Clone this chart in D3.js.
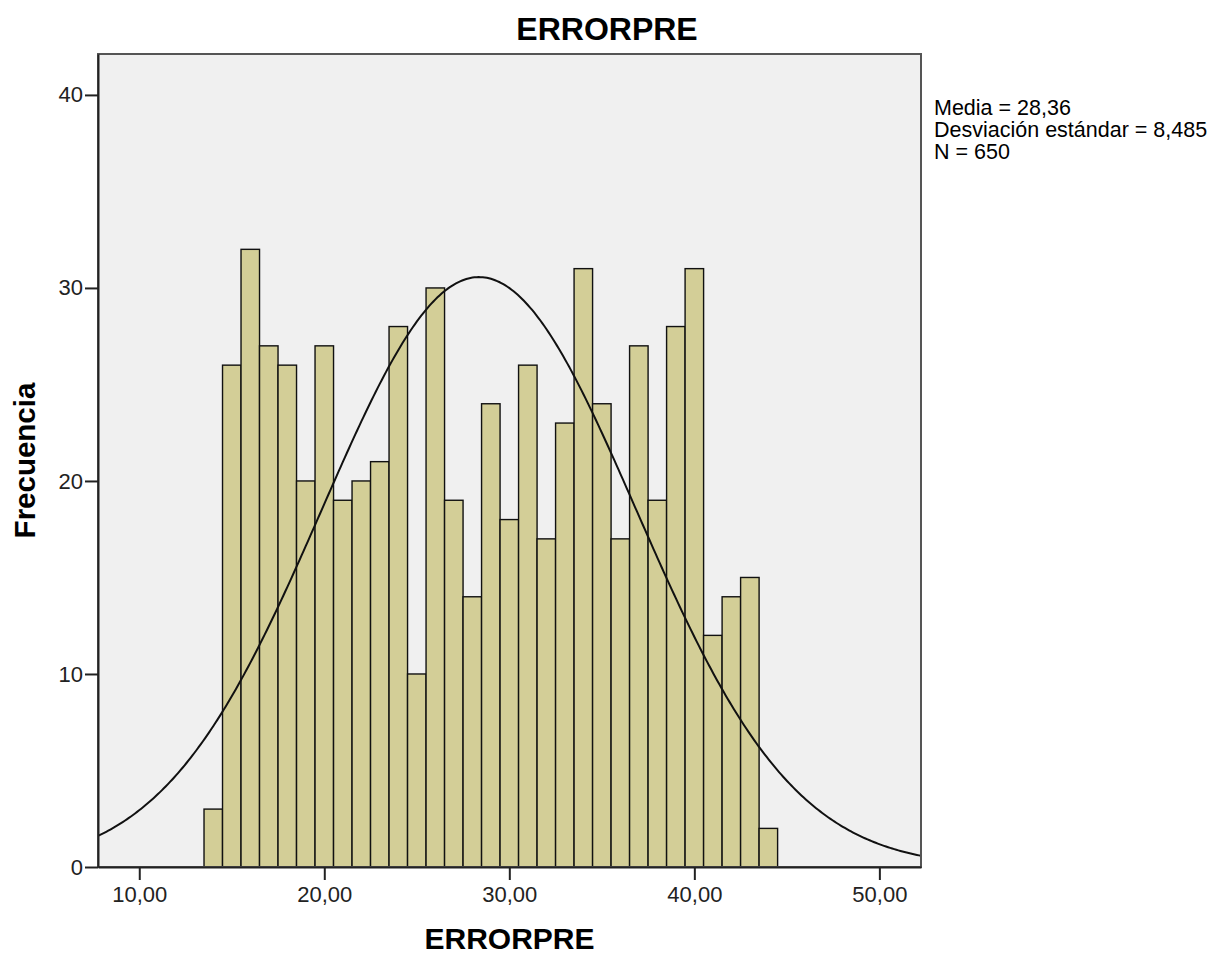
<!DOCTYPE html>
<html>
<head>
<meta charset="utf-8">
<script src="https://cdn.jsdelivr.net/npm/d3@7"></script>
<style>
  html, body { margin: 0; padding: 0; background: #fff; }
  svg { display: block; font-family: "Liberation Sans", Arial, sans-serif; }
</style>
</head>
<body>
<div id="chart"></div>
<script>
// Histogram bins (centre of each 1-unit bin) and their counts
const binCenters = [14, 15, 16, 17, 18, 19, 20, 21, 22, 23, 24, 25, 26, 27, 28, 29,
  30, 31, 32, 33, 34, 35, 36, 37, 38, 39, 40, 41, 42, 43, 44];
const counts = [3, 26, 32, 27, 26, 20, 27, 19, 20, 21, 28, 10, 30, 19, 14, 24,
  18, 26, 17, 23, 31, 24, 17, 27, 19, 28, 31, 12, 14, 15, 2];

// Summary statistics shown on the right
const stats = { mean: 28.36, sd: 8.485, n: 650 };
const statLines = ['Media = 28,36', 'Desviación estándar = 8,485', 'N = 650'];

const xTicks = [10, 20, 30, 40, 50];
const yTicks = [0, 10, 20, 30, 40];

const W = 1214, H = 955;
const plotL = 98, plotR = 921, plotT = 54, plotB = 867;

const svg = d3.select('#chart').append('svg')
  .attr('width', W).attr('height', H);

const x = d3.scaleLinear().domain([7.77, 52.25]).range([plotL, plotR]);
const y = d3.scaleLinear().domain([0, 42.12]).range([plotB, plotT]);

// Plot background
svg.append('rect')
  .attr('x', plotL).attr('y', plotT)
  .attr('width', plotR - plotL).attr('height', plotB - plotT)
  .attr('fill', '#f0f0f0');

// Bars
const bins = binCenters.map((c, i) => ({ c, v: counts[i] }));
svg.append('g').selectAll('rect').data(bins).join('rect')
  .attr('x', d => x(d.c - 0.5))
  .attr('y', d => y(d.v))
  .attr('width', d => x(d.c + 0.5) - x(d.c - 0.5))
  .attr('height', d => y(0) - y(d.v))
  .attr('fill', '#d3ce97')
  .attr('stroke', '#111')
  .attr('stroke-width', 1.4);

// Normal curve from the summary stats (bin width 1)
const binWidth = 1;
const [x0, x1] = x.domain();
const curveXs = d3.range(0, 401).map(i => x0 + (x1 - x0) * i / 400);
const normal = v => stats.n * binWidth / (stats.sd * Math.sqrt(2 * Math.PI)) *
  Math.exp(-0.5 * Math.pow((v - stats.mean) / stats.sd, 2));
svg.append('path')
  .datum(curveXs)
  .attr('fill', 'none')
  .attr('stroke', '#111')
  .attr('stroke-width', 2)
  .attr('d', d3.line().x(d => x(d)).y(d => y(normal(d))));

// Frame
svg.append('rect')
  .attr('x', plotL).attr('y', plotT)
  .attr('width', plotR - plotL).attr('height', plotB - plotT)
  .attr('fill', 'none').attr('stroke', '#555').attr('stroke-width', 2);

// Axes
const fmt = d => d.toFixed(2).replace('.', ',');
svg.append('g').attr('transform', `translate(0,${plotB})`)
  .call(d3.axisBottom(x).tickValues(xTicks).tickSize(13).tickSizeOuter(0).tickFormat(fmt))
  .call(g => g.select('.domain').attr('stroke', '#222').attr('stroke-width', 2))
  .call(g => g.selectAll('.tick line').attr('stroke', '#222').attr('stroke-width', 2))
  .call(g => g.selectAll('.tick text').attr('fill', '#222').attr('font-size', '22px')
    .attr('y', 35).attr('dy', 0));

svg.append('g').attr('transform', `translate(${plotL},0)`)
  .call(d3.axisLeft(y).tickValues(yTicks).tickSize(13).tickSizeOuter(0).tickFormat(d => d))
  .call(g => g.select('.domain').attr('stroke', '#222').attr('stroke-width', 2))
  .call(g => g.selectAll('.tick line').attr('stroke', '#222').attr('stroke-width', 2))
  .call(g => g.selectAll('.tick text').attr('fill', '#222').attr('font-size', '22px')
    .attr('x', -15));

svg.selectAll('g').attr('font-family', null);

// Titles
svg.append('text').attr('x', W / 2).attr('y', 40)
  .attr('text-anchor', 'middle').attr('font-size', '32px').attr('font-weight', 'bold')
  .attr('fill', '#000').text('ERRORPRE');
svg.append('text').attr('x', (plotL + plotR) / 2).attr('y', 949)
  .attr('text-anchor', 'middle').attr('font-size', '30px').attr('font-weight', 'bold')
  .attr('fill', '#000').text('ERRORPRE');
svg.append('text')
  .attr('transform', `translate(35,${(plotT + plotB) / 2}) rotate(-90)`)
  .attr('text-anchor', 'middle').attr('font-size', '29.5px').attr('font-weight', 'bold')
  .attr('fill', '#000').text('Frecuencia');

// Stats text
svg.append('g').selectAll('text').data(statLines).join('text')
  .attr('x', 934).attr('y', (d, i) => 115 + i * 22)
  .attr('font-size', '21.5px').attr('fill', '#000')
  .text(d => d);
</script>
</body>
</html>
